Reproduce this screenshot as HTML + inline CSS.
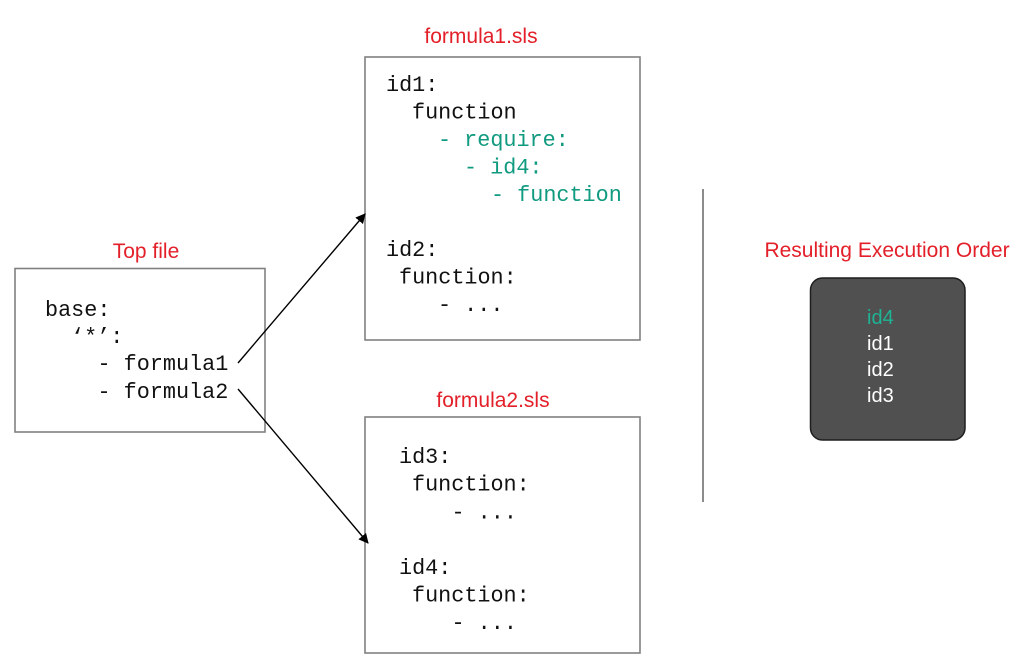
<!DOCTYPE html>
<html>
<head>
<meta charset="utf-8">
<style>
html,body{margin:0;padding:0;background:#fff;}
svg{display:block;}
.mono{font-family:"Liberation Mono","DejaVu Sans Mono",monospace;font-size:21.8px;fill:#111;}
.teal{fill:#109a80;}
.lbl{font-family:"Liberation Sans",Arial,sans-serif;font-size:21px;fill:#e3202a;}
.res{font-family:"Liberation Sans",Arial,sans-serif;font-size:20px;fill:#fff;}
</style>
</head>
<body>
<svg width="1034" height="668" viewBox="0 0 1034 668" xmlns="http://www.w3.org/2000/svg">
<defs>
<marker id="ah" markerWidth="10" markerHeight="10" refX="9" refY="5" orient="auto" markerUnits="userSpaceOnUse">
<path d="M0,0 L10,5 L0,10 z" fill="#000"/>
</marker>
</defs>

<!-- Top file -->
<text class="lbl" x="146" y="258" text-anchor="middle">Top file</text>
<rect x="15" y="268.5" width="250" height="163.5" fill="none" stroke="#808080" stroke-width="1.6"/>
<text class="mono" x="45" y="316" xml:space="preserve">base:</text>
<text class="mono" x="71" y="343" xml:space="preserve">‘*’:</text>
<text class="mono" x="97.5" y="370" xml:space="preserve">- formula1</text>
<text class="mono" x="97.5" y="398" xml:space="preserve">- formula2</text>

<!-- formula1 -->
<text class="lbl" x="481" y="43" text-anchor="middle">formula1.sls</text>
<rect x="365" y="57" width="275" height="283" fill="none" stroke="#808080" stroke-width="1.6"/>
<text class="mono" x="386" y="91">id1:</text>
<text class="mono" x="412" y="118.5">function</text>
<text class="mono teal" x="438" y="146" xml:space="preserve">- require:</text>
<text class="mono teal" x="464" y="173.5" xml:space="preserve">- id4:</text>
<text class="mono teal" x="491" y="201" xml:space="preserve">- function</text>
<text class="mono" x="386" y="256">id2:</text>
<text class="mono" x="399" y="283.5">function:</text>
<text class="mono" x="438" y="311" xml:space="preserve">- ...</text>

<!-- formula2 -->
<text class="lbl" x="493" y="407" text-anchor="middle">formula2.sls</text>
<rect x="365" y="417" width="275" height="236" fill="none" stroke="#808080" stroke-width="1.6"/>
<text class="mono" x="399" y="463">id3:</text>
<text class="mono" x="412" y="490.7">function:</text>
<text class="mono" x="451.5" y="518.4" xml:space="preserve">- ...</text>
<text class="mono" x="399" y="573.8">id4:</text>
<text class="mono" x="412" y="601.5">function:</text>
<text class="mono" x="451.5" y="629" xml:space="preserve">- ...</text>

<!-- arrows -->
<line x1="238" y1="363" x2="365" y2="214" stroke="#000" stroke-width="1.4" marker-end="url(#ah)"/>
<line x1="238" y1="389" x2="368" y2="543" stroke="#000" stroke-width="1.4" marker-end="url(#ah)"/>

<!-- divider -->
<line x1="703" y1="189" x2="703" y2="502" stroke="#666" stroke-width="1.5"/>

<!-- result -->
<text class="lbl" x="887" y="257" text-anchor="middle">Resulting Execution Order</text>
<rect x="810.5" y="278" width="154.5" height="162" rx="12" ry="12" fill="#505050" stroke="#1e1e1e" stroke-width="1.5"/>
<text class="res" x="867" y="324" style="fill:#1db394">id4</text>
<text class="res" x="867" y="350">id1</text>
<text class="res" x="867" y="376">id2</text>
<text class="res" x="867" y="402">id3</text>
</svg>
</body>
</html>
